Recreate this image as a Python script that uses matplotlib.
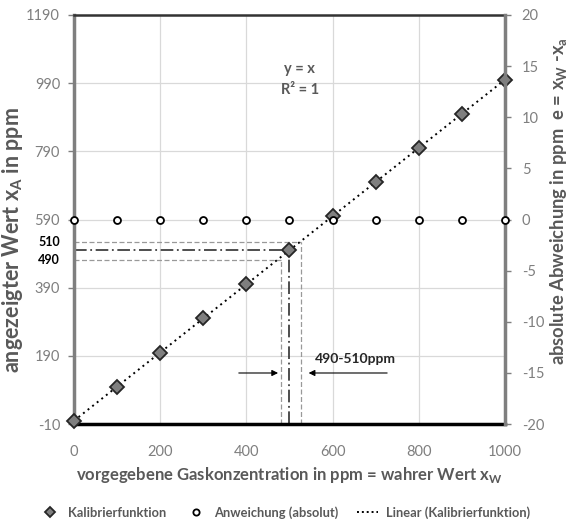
import numpy as np
import matplotlib.pyplot as plt
from matplotlib.lines import Line2D

plt.rcParams['font.family'] = ['Lato', 'DejaVu Sans']
plt.rcParams['axes.unicode_minus'] = False

# data
x_true = [0, 100, 200, 300, 400, 500, 600, 700, 800, 900, 1000]
x_shown = [0, 100, 200, 300, 400, 500, 600, 700, 800, 900, 1000]
deviation = [0, 0, 0, 0, 0, 0, 0, 0, 0, 0, 0]

x_ticks = [0, 200, 400, 600, 800, 1000]
y_ticks = [-10, 190, 390, 590, 790, 990, 1190]
y2_ticks = [-20, -15, -10, -5, 0, 5, 10, 15, 20]

# tolerance band sketch (drawn wider than true scale, like the original)
band_labels = ['510', '490']
band_y = [523, 471]
band_x = [527, 480]
target = 500

GRAY = '#7f7f7f'
DARK = '#595959'

fig = plt.figure(figsize=(5.69, 5.23), dpi=100)
ax = fig.add_axes([0.130, 0.189, 0.7575, 0.7825])

ax.set_xlim(0, 1000)
ax.set_ylim(-10, 1190)
ax.set_xticks(x_ticks)
ax.set_yticks(y_ticks)
ax.grid(True, color='#d9d9d9', lw=0.9)
ax.set_axisbelow(True)
ax.tick_params(colors=GRAY, labelsize=10.5, length=4, width=1, pad=6)
ax.tick_params(axis='x', length=0, pad=15)
ax.spines['bottom'].set_color('#000000')
ax.spines['bottom'].set_linewidth(2.5)
ax.spines['top'].set_linewidth(1.8)
ax.spines['top'].set_color('#333333')
ax.spines['left'].set_color(GRAY)
ax.spines['left'].set_linewidth(2.5)

# trend line from a linear fit of the calibration points
k, d = np.polyfit(x_true, x_shown, 1)
xs = np.array([0, 1000])
ax.plot(xs, k * xs + d, ls=(0, (1, 2)), color='#000000', lw=1.4, zorder=3)
ax.plot(x_true, x_shown, ls='none', marker='D', ms=7, mfc='#7f7f7f',
        mec='#262626', mew=1.3, zorder=4, clip_on=False)

# tolerance band
dash = dict(ls=(0, (4, 2)), color='#999999', lw=0.9)
ax.plot([0, band_x[0]], [band_y[0], band_y[0]], **dash)
ax.plot([0, band_x[1]], [band_y[1], band_y[1]], **dash)
ax.plot([band_x[0], band_x[0]], [-10, band_y[0]], **dash)
ax.plot([band_x[1], band_x[1]], [-10, band_y[1]], **dash)
ax.plot([0, target], [target, target], ls=(0, (7, 2, 1, 2)), color='#404040', lw=1.3)
ax.plot([target, target], [-10, target], ls=(0, (7, 2, 1, 2)), color='#404040', lw=1.3)
for lab, yv in zip(band_labels, band_y):
    ax.text(-33, yv, lab, ha='right', va='center', fontsize=9, fontweight='bold',
            color='#000000', clip_on=False)

ax.annotate('', xy=(band_x[1], 140), xytext=(376, 140),
            arrowprops=dict(arrowstyle='-|>', color='#000000', lw=0.8, mutation_scale=9))
ax.annotate('', xy=(538, 140), xytext=(733, 140),
            arrowprops=dict(arrowstyle='-|>', color='#000000', lw=0.8, mutation_scale=9))
ax.text(654, 182, '490-510ppm', ha='center', va='center', fontsize=10,
        fontweight='bold', color='#262626')

ax.text(524, 1030, 'y = x', ha='center', va='center', fontsize=10.5,
        fontweight='bold', color=DARK)
ax.text(524, 970, 'R² = 1', ha='center', va='center', fontsize=10.5,
        fontweight='bold', color=DARK)

ax.set_xlabel('vorgegebene Gaskonzentration in ppm = wahrer Wert x$_\\mathregular{W}$',
              fontsize=12, fontweight='bold', color=DARK, labelpad=4)
ax.set_ylabel('angezeigter Wert x$_\\mathregular{A}$ in ppm',
              fontsize=15.5, fontweight='bold', color=DARK)
ax.yaxis.set_label_coords(-0.113, 0.45)

ax2 = ax.twinx()
ax2.set_ylim(-20, 20)
ax2.set_yticks(y2_ticks)
ax2.tick_params(colors=GRAY, labelsize=10.5, length=4, width=1, pad=8)
ax2.spines['right'].set_color(GRAY)
ax2.spines['right'].set_linewidth(2.5)
for s in ['top', 'bottom', 'left']:
    ax2.spines[s].set_visible(False)
ax2.plot(x_true, deviation, ls='none', marker='o', ms=5, mfc='white',
         mec='#000000', mew=1.3, zorder=4, clip_on=False)
ax2.set_ylabel('absolute Abweichung in ppm  e = x$_\\mathregular{W}$ -x$_\\mathregular{a}$',
               fontsize=13.2, fontweight='bold', color=DARK)
ax2.yaxis.set_label_coords(1.099, 0.544)

handles = [
    Line2D([], [], ls='none', marker='D', ms=5.5, mfc='#7f7f7f', mec='#262626', mew=1.3),
    Line2D([], [], ls='none', marker='o', ms=4.5, mfc='white', mec='#000000', mew=1.3),
    Line2D([], [], ls=(0, (1, 1.5)), color='#000000', lw=1.4),
]
labels = ['Kalibrierfunktion', 'Anweichung (absolut)', 'Linear (Kalibrierfunktion)']
leg = fig.legend(handles, labels, loc='center', bbox_to_anchor=(0.5, 0.02), ncol=3,
                 frameon=False, fontsize=9.3, handlelength=1.6, handletextpad=0.6,
                 columnspacing=1.5)
for t in leg.get_texts():
    t.set_color(DARK)
    t.set_fontweight('bold')

fig.savefig('out.png', dpi=100)
